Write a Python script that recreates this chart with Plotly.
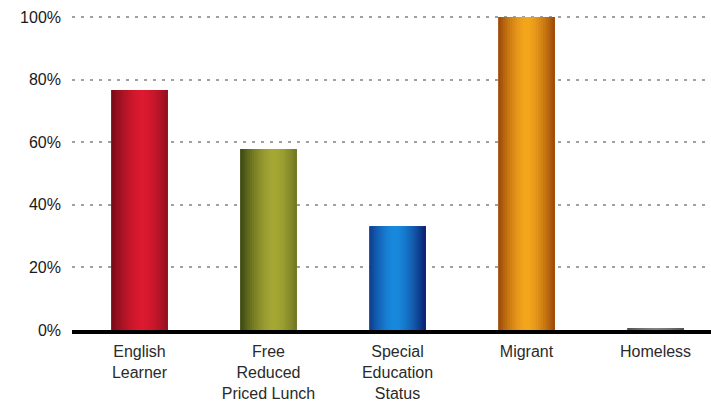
import plotly.graph_objects as go

categories = ["English<br>Learner", "Free<br>Reduced<br>Priced Lunch", "Special<br>Education<br>Status", "Migrant", "Homeless"]
values = [0.767, 0.578, 0.332, 1.0, 0.004]
y_ticks = [0, 0.2, 0.4, 0.6, 0.8, 1.0]
y_tick_labels = ["0%", "20%", "40%", "60%", "80%", "100%"]

# gradient styling per bar: (edge colour, highlight colour, highlight position 0..1)
gradients = [
    ((0x74, 0x0c, 0x18), (0xdc, 0x1a, 0x30), 0.55),
    ((0x3a, 0x46, 0x10), (0xa6, 0xa8, 0x34), 0.60),
    ((0x0c, 0x1c, 0x6c), (0x18, 0x8a, 0xde), 0.45),
    ((0x9a, 0x46, 0x08), (0xf4, 0xa6, 0x1c), 0.50),
    ((0x50, 0x50, 0x50), (0x80, 0x80, 0x80), 0.50),
]

BAR_W = 0.44
N = 24


def strip_color(grad, t):
    dark, bright, p = grad
    d = abs(t - p) / max(p, 1 - p)
    k = 1 - d ** 1.6
    c = [round(dark[j] + (bright[j] - dark[j]) * k) for j in range(3)]
    return f"rgb({c[0]},{c[1]},{c[2]})"


fig = go.Figure()
sw = BAR_W / N
for i in range(N):
    t = (i + 0.5) / N
    off = -BAR_W / 2 + i * sw
    w = min(2 * sw, BAR_W / 2 - off)
    fig.add_trace(go.Bar(
        x=categories, y=values,
        width=w, offset=off,
        marker=dict(color=[strip_color(g, t) for g in gradients], line=dict(width=0)),
        showlegend=False, hoverinfo="skip",
    ))

fig.update_layout(
    width=711, height=401,
    margin=dict(l=72, r=0, t=10, b=71),
    barmode="overlay",
    plot_bgcolor="white", paper_bgcolor="white",
    font=dict(family="Liberation Sans, Arial, sans-serif", color="#333333"),
)
fig.update_xaxes(
    range=[-0.523, 4.43],
    showline=True, linecolor="black", linewidth=4, layer="above traces",
    showgrid=False, ticks="",
    tickfont=dict(size=16, color="#2a2a2a"),
    ticklabelstandoff=4,
)
fig.update_yaxes(
    range=[0, 1.0224],
    tickvals=y_ticks, ticktext=y_tick_labels,
    showgrid=True, gridcolor="#a0a0a0", gridwidth=2, griddash="3px,6px",
    zeroline=False, showline=False, ticks="",
    tickfont=dict(size=16, color="#1a1a1a"),
    ticklabelstandoff=10,
)

fig.write_html("out.html")
